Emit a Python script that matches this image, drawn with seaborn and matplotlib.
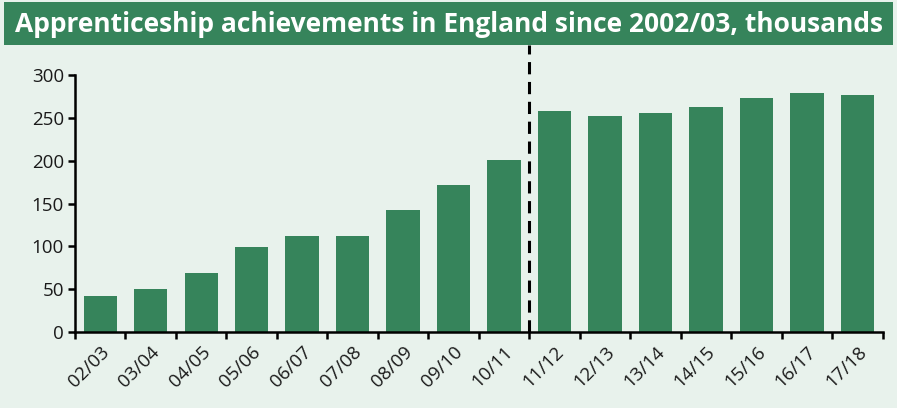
import matplotlib
matplotlib.use("Agg")
import matplotlib.pyplot as plt
from matplotlib.patches import Rectangle
import seaborn as sns
import numpy as np

# data (thousands)
years = ["02/03", "03/04", "04/05", "05/06", "06/07", "07/08", "08/09", "09/10",
         "10/11", "11/12", "12/13", "13/14", "14/15", "15/16", "16/17", "17/18"]
achievements = [42.5, 49.8, 68.5, 99.6, 112.4, 112.0, 143.0, 171.0,
                200.5, 258.0, 252.0, 256.0, 262.0, 273.0, 279.0, 276.0]
yticks = [0, 50, 100, 150, 200, 250, 300]
title = "Apprenticeship achievements in England since 2002/03, thousands"

GREEN = "#36845b"
BG = "#e8f2ec"

sns.set_theme(style="white")
plt.rcParams["font.family"] = ["Open Sans", "DejaVu Sans"]

fig = plt.figure(figsize=(8.97, 4.08), dpi=100, facecolor=BG)
ax = fig.add_axes([0.0836, 0.186, 0.9004, 0.704])
ax.set_facecolor(BG)

sns.barplot(x=years, y=achievements, color=GREEN, saturation=1, width=0.66,
            linewidth=0, ax=ax)

ax.set_xlim(-0.5, len(years) - 0.5)
ax.set_ylim(0, 335)
ax.set_yticks(yticks)
ax.set_xlabel("")
ax.set_ylabel("")

for s in ["top", "right"]:
    ax.spines[s].set_visible(False)
for s in ["left", "bottom"]:
    ax.spines[s].set_color("black")
    ax.spines[s].set_linewidth(1.8)
ax.spines["left"].set_bounds(0, 300)

# tick marks between categories, labels at bar centres
ax.set_xticks(np.arange(-0.5, len(years)), minor=True)
ax.tick_params(axis="x", which="major", length=0, pad=8, labelsize=13.5)
ax.tick_params(axis="x", which="minor", bottom=True, length=5, width=1.8,
               direction="out", color="black")
ax.tick_params(axis="y", left=True, length=5, width=1.8, direction="out",
               labelsize=13.5, color="black", pad=3)
plt.setp(ax.get_xticklabels(), rotation=45, ha="right", rotation_mode="anchor",
         color="#1a1a1a")
plt.setp(ax.get_yticklabels(), color="#1a1a1a")

# dashed divider between 10/11 and 11/12
ax.axvline(8.5, color="black", linewidth=2.2, linestyle=(0, (4, 2.5)))

# title banner
fig.patches.append(Rectangle((4 / 897, 1 - 45 / 408), 889 / 897, 43 / 408,
                             transform=fig.transFigure, facecolor=GREEN,
                             edgecolor="none", zorder=0))
fig.text(0.5, 1 - 24 / 408, title, ha="center", va="center", color="white",
         fontsize=19, fontweight="bold")

fig.savefig("out.png", dpi=100, facecolor=BG)
